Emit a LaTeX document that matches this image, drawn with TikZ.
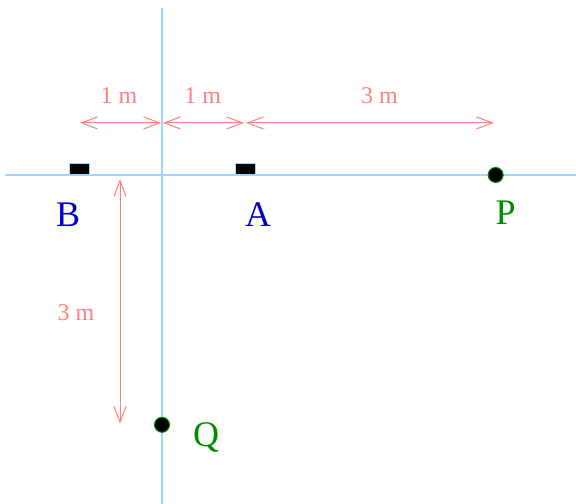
\documentclass[tikz,border=0pt]{standalone}
\usepackage{fontspec}
\setmainfont{Liberation Serif}
\usetikzlibrary{arrows.meta}
\definecolor{axisblue}{RGB}{160,215,250}
\definecolor{dimred}{RGB}{255,128,128}
\definecolor{labblue}{RGB}{0,0,205}
\definecolor{labgreen}{RGB}{0,140,0}
\begin{document}
\begin{tikzpicture}[x=41.5pt, y=41.5pt, >={Straight Barb[length=8pt,width=6pt]},
    axis/.style={axisblue, line width=0.6pt},
    dim/.style={dimred, <->, line width=0.5pt, shorten <=0.5pt, shorten >=0.5pt},
    dimlabel/.style={dimred, font=\fontsize{12}{14}\selectfont},
    source/.style={fill=black, draw=axisblue, line width=0.5pt, minimum width=10pt, minimum height=5.5pt, inner sep=0pt, anchor=south},
    receiver/.style={circle, fill=black, draw=labgreen, line width=0.5pt, minimum size=7.5pt, inner sep=0pt},
    namelabel/.style={font=\fontsize{18}{20}\selectfont}]
    \useasboundingbox (-1.952,-3.964) rectangle (4.988,2.108);
    % 軸
    \coordinate (xl) at (-1.89,0);
    \coordinate (xr) at (4.988,0);
    \coordinate (yt) at (0,2.012);
    \coordinate (yb) at (0,-3.964);
    \draw[axis] (xl) -- (xr);
    \draw[axis] (yt) -- (yb);
    % 音源 B, A と点 P, Q
    \node[source] (B) at (-1,0) {};
    \node[source] (A) at (1,0) {};
    \node[receiver] (P) at (4.02,0) {};
    \node[receiver] (Q) at (0,-3.01) {};
    % ラベル
    \node[namelabel, labblue] (Blab) at (-1.13,-0.48) {B};
    \node[namelabel, labblue] (Alab) at (1.157,-0.48) {A};
    \node[namelabel, labgreen] (Plab) at (4.14,-0.46) {P};
    \node[namelabel, labgreen] (Qlab) at (0.53,-3.16) {Q};
    % 寸法線 (横)
    \coordinate (d1) at (-1,0.627);
    \coordinate (d2) at (0,0.627);
    \coordinate (d3) at (1,0.627);
    \coordinate (d4) at (4.01,0.627);
    \draw[dim] (d1) -- (d2);
    \draw[dim] (d2) -- (d3);
    \draw[dim] (d3) -- (d4);
    \node[dimlabel] (l1) at (-0.52,0.96) {1 m};
    \node[dimlabel] (l2) at (0.49,0.96) {1 m};
    \node[dimlabel] (l3) at (2.62,0.96) {3 m};
    % 寸法線 (縦)
    \coordinate (v1) at (-0.506,0);
    \coordinate (v2) at (-0.506,-3.01);
    \draw[dim, shorten <=2pt] (v1) -- (v2);
    \node[dimlabel] (l4) at (-1.036,-1.66) {3 m};
\end{tikzpicture}
\end{document}
